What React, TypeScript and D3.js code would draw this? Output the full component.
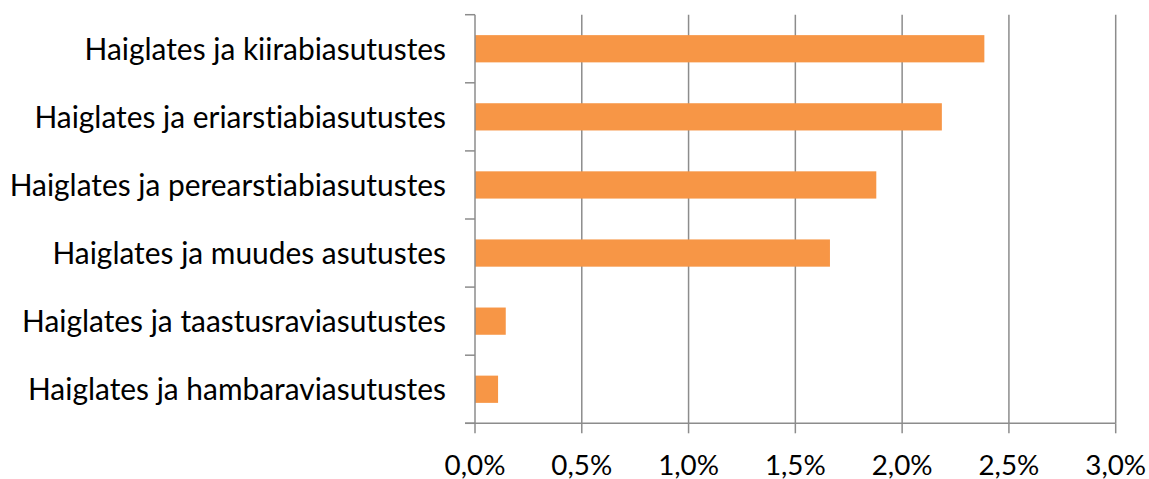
import React from "react";
import * as d3 from "d3";

const categories = [
  "Haiglates ja kiirabiasutustes",
  "Haiglates ja eriarstiabiasutustes",
  "Haiglates ja perearstiabiasutustes",
  "Haiglates ja muudes asutustes",
  "Haiglates ja taastusraviasutustes",
  "Haiglates ja hambaraviasutustes",
];
const values = [2.385, 2.186, 1.879, 1.662, 0.144, 0.108];
const xTicks = [0, 0.5, 1.0, 1.5, 2.0, 2.5, 3.0];
const xTickLabels = ["0,0%", "0,5%", "1,0%", "1,5%", "2,0%", "2,5%", "3,0%"];

const W = 1149;
const H = 479;
const left = 475;
const right = 1115.7;
const top = 14.7;
const bottom = 423.3;
const FONT = "Lato, 'Open Sans', sans-serif";
const GRID = "#8c8c8c";

export default function App() {
  const x = d3.scaleLinear().domain([0, 3]).range([left, right]);
  const y = d3
    .scaleBand<string>()
    .domain(categories)
    .range([top, bottom])
    .paddingInner(0.6)
    .paddingOuter(0.3);
  const step = (bottom - top) / categories.length;
  const bounds = d3.range(categories.length + 1).map((i) => top + i * step);

  return (
    <svg
      width={W}
      height={H}
      style={{ position: "absolute", left: 0, top: 0, background: "#fff" }}
    >
      {xTicks.slice(1).map((t) => (
        <line
          key={"g" + t}
          x1={x(t)}
          x2={x(t)}
          y1={top}
          y2={bottom}
          stroke={GRID}
          strokeWidth={1.5}
        />
      ))}
      {categories.map((c, i) => (
        <rect
          key={c}
          x={x(0)}
          y={y(c)!}
          width={x(values[i]) - x(0)}
          height={y.bandwidth()}
          fill="#F79646"
        />
      ))}
      <line x1={left} x2={left} y1={top} y2={bottom} stroke={GRID} strokeWidth={1.5} />
      {bounds.map((b, i) => (
        <line key={"yt" + i} x1={left - 10} x2={left} y1={b} y2={b} stroke={GRID} strokeWidth={1.5} />
      ))}
      <line x1={left - 10} x2={right} y1={bottom} y2={bottom} stroke={GRID} strokeWidth={1.5} />
      {xTicks.map((t) => (
        <line key={"xt" + t} x1={x(t)} x2={x(t)} y1={bottom} y2={bottom + 10} stroke={GRID} strokeWidth={1.5} />
      ))}
      {xTicks.map((t, i) => (
        <text
          key={"xl" + t}
          x={x(t)}
          y={474.5}
          textAnchor="middle"
          fontFamily={FONT}
          fontSize={27.8}
          fill="#000"
          style={{ fontVariantLigatures: "none" }}
        >
          {xTickLabels[i]}
        </text>
      ))}
      {categories.map((c) => (
        <text
          key={"yl" + c}
          x={446}
          y={y(c)! + y.bandwidth() / 2}
          dy="0.36em"
          textAnchor="end"
          fontFamily={FONT}
          fontSize={29.9}
          fill="#000"
          style={{ fontVariantLigatures: "none" }}
        >
          {c}
        </text>
      ))}
    </svg>
  );
}
